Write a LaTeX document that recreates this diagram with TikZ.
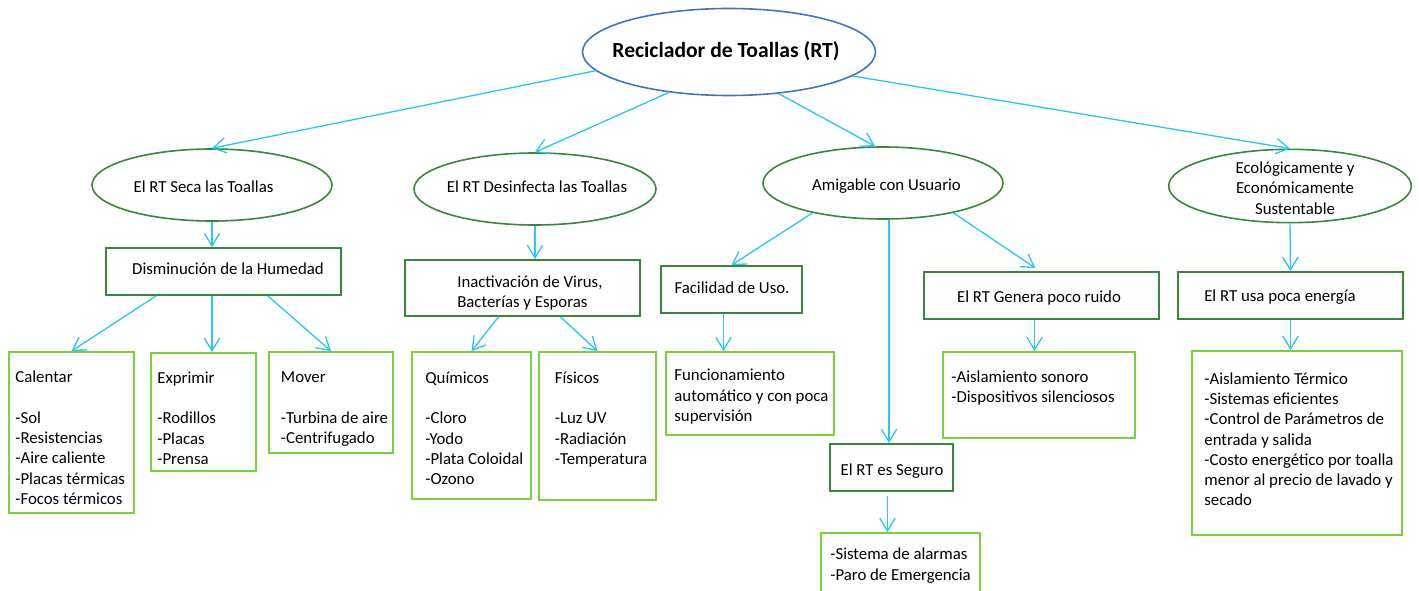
\documentclass[tikz,border=0pt]{standalone}
\usepackage{fontspec}
\setmainfont{Carlito}
\usetikzlibrary{shapes.geometric,fit,arrows.meta}
\definecolor{rootblue}{RGB}{68,114,196}
\definecolor{darkgr}{RGB}{56,135,60}
\definecolor{lightgr}{RGB}{120,210,60}
\definecolor{arrowcy}{RGB}{40,200,240}
\def\leaf#1#2#3#4#5{
      \node[leaf, fit={#2 #3}] (#1) {};
      \node[leaftext] (#1t) at ([shift={#4}]#1.north west) {#5};
  }

\begin{document}
\begin{tikzpicture}[x=0.75pt, y=-0.75pt,
  font={\fontsize{12.6pt}{15.2pt}\selectfont},
  ell/.style = {ellipse, draw=darkgr, line width=1.2pt
    , inner sep=0pt, minimum width=180pt, minimum height=54pt},
  elltext/.style = {anchor=base, inner sep=0pt, align=center
    , execute at begin node=\strut},
  mid/.style = {draw=darkgr, line width=1.3pt, inner sep=0pt},
  leaf/.style = {draw=lightgr, line width=1.3pt, inner sep=0pt},
  leaftext/.style = {anchor=north west, align=left, inner sep=0pt
    , execute at begin node=\strut}]

 \useasboundingbox (0,0) rectangle (1419,591);
 \clip (0,0) rectangle (1419,591);

 \node[ell, draw=rootblue, minimum width=219.75pt, minimum height=65.25pt] (root) at (729,52) {};
 \node[elltext, font={\fontsize{16.2pt}{18pt}\selectfont\bfseries}] (roott) at (726,57.5) {Reciclador de Toallas (RT)};

 \node[ell] (E1) at (212,185) {};
 \node[elltext] (E1t) at (203.5,193) {El RT Seca las Toallas};
 \node[ell, minimum width=181.5pt] (E2) at (535,189) {};
 \node[elltext] (E2t) at (537,193) {El RT Desinfecta las Toallas};
 \node[ell] (E3) at (883,183) {};
 \node[elltext] (E3t) at (886.5,190.5) {Amigable con Usuario};
 \node[ell, minimum width=182pt, minimum height=55pt] (E4) at (1290,186) {};
 \node[elltext, anchor=north] (E4t) at (1295,161.8) {Ecológicamente y\\Económicamente\\Sustentable};

 \node[mid, fit={(106,248) (341,295)}] (R1) {};
 \node[elltext] (R1t) at (228,275) {Disminución de la Humedad};
 \node[mid, fit={(405,260) (640,316)}] (R2) {};
 \node[leaftext] (R2t) at (457,275.3) {Inactivación de Virus,\\Bacterías y Esporas};
 \node[mid, fit={(661,266) (802,313)}] (R3) {};
 \node[elltext] (R3t) at (732,294) {Facilidad de Uso.};
 \node[mid, fit={(924,272) (1159,319)}] (R4) {};
 \node[elltext] (R4t) at (1039,302) {El RT Genera poco ruido};
 \node[mid, fit={(830,444) (953,491)}] (R5) {};
 \node[elltext] (R5t) at (892,475) {El RT es Seguro};
 \node[mid, fit={(1178,272) (1403,319)}] (R6) {};
 \node[elltext] (R6t) at (1280,301.5) {El RT usa poca energía};

 \leaf{L1}{(9,352)}{(134,513)}{(7,19.8)}{Calentar\\[15.2pt]-Sol\\-Resistencias\\-Aire caliente\\-Placas térmicas\\-Focos térmicos}
 \leaf{L2}{(151,353)}{(256,471)}{(7,19.3)}{Exprimir\\[15.2pt]-Rodillos\\-Placas\\-Prensa}
 \leaf{L3}{(269,352)}{(393,453)}{(12.5,20.3)}{Mover\\[15.2pt]-Turbina de aire\\-Centrifugado}
 \leaf{L4}{(412,352)}{(531,499)}{(14,20.3)}{Químicos\\[15.2pt]-Cloro\\-Yodo\\-Plata Coloidal\\-Ozono}
 \leaf{L5}{(539,352)}{(656,500)}{(16.5,20.3)}{Físicos\\[15.2pt]-Luz UV\\-Radiación\\-Temperatura}
 \leaf{L6}{(666,352)}{(834,435)}{(9,17.8)}{Funcionamiento\\automático y con poca\\supervisión}
 \leaf{L7}{(943,352)}{(1135,438)}{(9,19.3)}{-Aislamiento sonoro\\-Dispositivos silenciosos}
 \leaf{L8}{(821,533)}{(980,600)}{(10,15.8)}{-Sistema de alarmas\\-Paro de Emergencia}
 \leaf{L9}{(1192,351)}{(1402,535)}{(13,22.3)}{-Aislamiento Térmico\\-Sistemas eficientes\\-Control de Parámetros de\\entrada y salida\\-Costo energético por toalla\\menor al precio de lavado y\\secado}

 \begin{scope}[arrowcy, line width=1pt, -{Straight Barb[length=9.5pt,width=11.5pt]}]
  \draw (root.188) -- (E1.north);
  \draw (root.214) -- (E2.north);
  \draw (root.320) -- (E3.102);
  \draw (root.349) -- (E4.north);
  \draw (E1.south) -- (E1.south |- R1.north);
  \draw ([shift={(51,0)}]R1.south west) -- (L1.north);
  \draw (E1.south |- R1.south) -- (E1.south |- L2.north);
  \draw ([shift={(-74,0)}]R1.south east) -- (L3.north);
  \draw (E2.south) -- (E2.south |- R2.north);
  \draw ([shift={(-24,0)}]R2.south) -- (L4.north);
  \draw ([shift={(38,0)}]R2.south) -- (L5.north);
  \draw (E3.203) -- (R3.north);
  \draw ([shift={(-2.5,0)}]R5.north |- E3.south) -- ([shift={(-2.5,0)}]R5.north);
  \draw (E3.337) -- ([shift={(-6,-3)}]R4.north);
  \draw ([shift={(-8,0)}]R3.south) -- ([shift={(-8,0)}]R3.south |- L6.north);
  \draw ([shift={(-7,0)}]R4.south) -- ([shift={(-7,0)}]R4.south |- L7.north);
  \draw ([shift={(-4,4)}]R5.south) -- ([shift={(-4,0)}]R5.south |- L8.north);
  \draw (E4.south) -- (R6.north);
  \draw (R6.south) -- (R6.south |- L9.north);
 \end{scope}
\end{tikzpicture}
\end{document}
